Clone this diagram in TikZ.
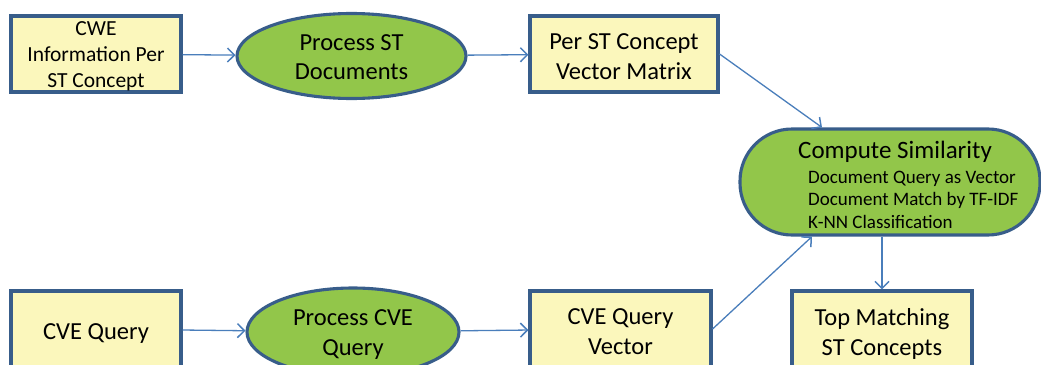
\documentclass[tikz,border=0pt]{standalone}
\usepackage{fontspec}
\setmainfont{Carlito}
\usetikzlibrary{arrows.meta,shapes.geometric}

\definecolor{boxfill}{RGB}{251,247,188}
\definecolor{edgeblue}{RGB}{56,93,138}
\definecolor{procgreen}{RGB}{146,198,74}
\definecolor{linkblue}{RGB}{74,126,187}

\newcommand{\mainsize}{\fontsize{24.5}{29.5}\selectfont}
\newcommand{\smallsize}{\fontsize{21.5}{26}\selectfont}
\newcommand{\subsize}{\fontsize{19}{22.5}\selectfont}

\tikzset{
  databox/.style={draw=edgeblue, line width=3.1pt, fill=boxfill, inner sep=0pt,
    minimum height=76pt},
  procnode/.style={ellipse, draw=edgeblue, line width=3.1pt, fill=procgreen,
    inner sep=0pt},
  stadium/.style={rectangle, rounded corners=52pt, draw=edgeblue, line width=3.1pt,
    fill=procgreen, inner sep=0pt},
  labeltext/.style={inner sep=0pt, align=center, font=\mainsize},
  flow/.style={draw=linkblue, line width=1.3pt,
    -{Straight Barb[length=7pt,width=14pt,line width=1.5pt]}},
}

\begin{document}
\begin{tikzpicture}[x=1pt,y=-1pt]
\useasboundingbox (0,0) rectangle (1041,364);
\clip (0,0) rectangle (1041,364);

% upper row: concept documents
\node[databox, minimum width=170pt] (cwe) at (96,54) {};
\node[labeltext, font=\smallsize] (cwe-t) at (96,56.5)
  {CWE\\Information Per\\ST Concept};
\node[procnode, minimum width=229pt, minimum height=85pt] (pst) at (351.5,56) {};
\node[labeltext] (pst-t) at (351.5,57) {Process ST\\Documents};
\node[databox, minimum width=188pt] (mat) at (624,54) {};
\node[labeltext] (mat-t) at (624,56.5) {Per ST Concept\\Vector Matrix};

% similarity stage
\node[stadium, minimum width=300pt, minimum height=106pt] (sim) at (890,182) {};
\node[anchor=base west, inner sep=0pt, font=\fontsize{25}{30}\selectfont] (simtitle)
  at (798,158) {Compute Similarity};
\node[anchor=base west, inner sep=0pt, font=\subsize] (simA) at (808,183)
  {Document Query as Vector};
\node[anchor=base west, inner sep=0pt, font=\subsize] (simB) at (808,205.5)
  {Document Match by TF-IDF};
\node[anchor=base west, inner sep=0pt, font=\subsize] (simC) at (808,228)
  {K-NN Classification};

% lower row: query
\node[databox, minimum width=170pt] (cveq) at (96,329) {};
\node[labeltext] (cveq-t) at (96,334) {CVE Query};
\node[procnode, minimum width=212pt, minimum height=88pt] (pcve) at (353,332) {};
\node[labeltext] (pcve-t) at (353,334.5) {Process CVE\\Query};
\node[databox, minimum width=181pt] (qvec) at (620.5,329) {};
\node[labeltext] (qvec-t) at (620.5,331.5) {CVE Query\\Vector};
\node[databox, minimum width=180pt] (top) at (882,329) {};
\node[labeltext] (top-t) at (882,334) {Top Matching\\ST Concepts};

% connectors
\draw[flow] (cwe) -- (pst);
\draw[flow] (pst) -- (mat);
\draw[flow] (mat.east) -- ([xshift=-68pt]sim.north);
\draw[flow] (cveq) -- (pcve);
\draw[flow] (pcve) -- (qvec);
\draw[flow] (qvec.east) -- ([xshift=-78pt]sim.south);
\draw[flow] (sim.south -| top.north) -- (top.north);
\end{tikzpicture}
\end{document}
